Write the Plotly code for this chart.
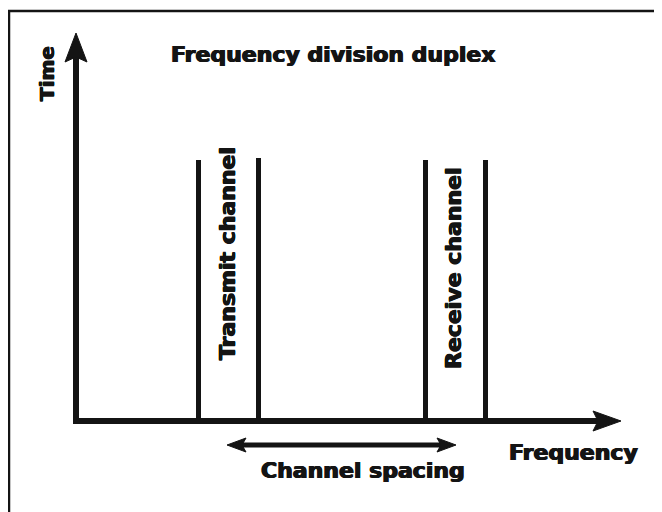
import plotly.graph_objects as go

# Diagram values (pixel-space coordinates of the sketch)
axis_origin = [76, 421]
freq_axis_end = 621
time_axis_end = 33
channel_edges = [198.5, 258.5, 425.5, 485.5]
channel_tops = [160, 158, 160, 160]
spacing_span = [227, 456]
spacing_y = 445
labels = ["Transmit channel", "Receive channel"]

FONT = "DejaVu Sans"
WEIGHT = "bold"
BLK = "#141414"
HEAVY = "0.7px 0 0 #141414, -0.7px 0 0 #141414, 0 0.4px 0 #141414"

fig = go.Figure()

def line(xs, ys, w):
    fig.add_trace(go.Scatter(x=xs, y=ys, mode="lines",
                             line=dict(color=BLK, width=w), hoverinfo="skip"))

def tri(pts):
    xs = [p[0] for p in pts] + [pts[0][0]]
    ys = [p[1] for p in pts] + [pts[0][1]]
    fig.add_trace(go.Scatter(x=xs, y=ys, mode="lines", fill="toself",
                             fillcolor=BLK, line=dict(color=BLK, width=1),
                             hoverinfo="skip"))

# frame (open on right/bottom, cropped)
line([9, 9, 700], [530, 11, 11], 2.5)

x0, y0 = axis_origin
# axes
line([x0, x0], [y0 + 3, time_axis_end + 22], 6)
line([x0 - 3, freq_axis_end - 22], [y0, y0], 6)
tri([(x0, time_axis_end), (x0 - 11, time_axis_end + 29), (x0, time_axis_end + 24), (x0 + 11, time_axis_end + 29)])
tri([(freq_axis_end, y0), (freq_axis_end - 28, y0 - 10), (freq_axis_end - 23, y0), (freq_axis_end - 28, y0 + 10)])

# channel lines
for xe, yt in zip(channel_edges, channel_tops):
    line([xe, xe], [y0, yt], 5)

# channel spacing double arrow
sa, sb = spacing_span
line([sa + 12, sb - 12], [spacing_y, spacing_y], 5)
tri([(sa, spacing_y), (sa + 19, spacing_y - 7), (sa + 15, spacing_y), (sa + 19, spacing_y + 7)])
tri([(sb, spacing_y), (sb - 19, spacing_y - 7), (sb - 15, spacing_y), (sb - 19, spacing_y + 7)])

def txt(x, y, s, size, angle=0):
    fig.add_annotation(x=x, y=y, text=s, showarrow=False, textangle=angle,
                       font=dict(family=FONT, size=size, color=BLK, weight=WEIGHT,
                                 shadow=HEAVY),
                       xanchor="center", yanchor="middle")

txt(333, 54, "Frequency division duplex", 22)
txt(47, 74, "Time", 20, -90)
txt(573, 452, "Frequency", 22)
txt(363, 470, "Channel spacing", 22)
txt(227, 254, labels[0], 22, -90)
txt(453, 268, labels[1], 22, -90)

fig.update_layout(width=654, height=504, margin=dict(l=0, r=0, t=0, b=0),
                  plot_bgcolor="white", paper_bgcolor="white", showlegend=False,
                  xaxis=dict(range=[8, 662], visible=False, fixedrange=True),
                  yaxis=dict(range=[512, 8], visible=False, fixedrange=True))
fig.write_html("out.html")
